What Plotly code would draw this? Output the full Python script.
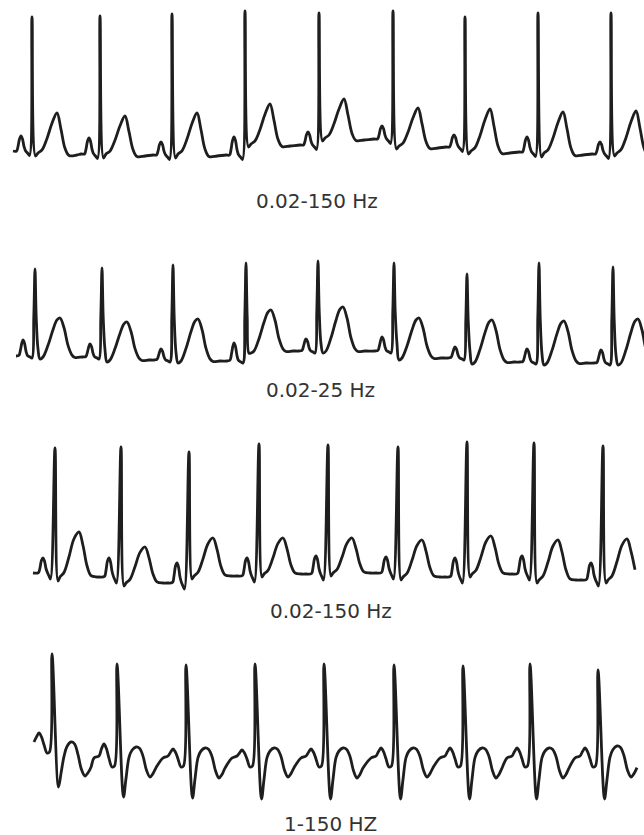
import plotly.graph_objects as go

# ---------------- data (time in s, amplitude in mV) ----------------
labels = ["0.02-150 Hz", "0.02-25 Hz", "0.02-150 Hz", "1-150 HZ"]

# Strip 1 : 0.02-150 Hz
s1_r_time = [0.32, 1.00, 1.72, 2.45, 3.19, 3.93, 4.65, 5.38, 6.11]
s1_r_amp = [1.34, 1.38, 1.41, 1.44, 1.32, 1.28, 1.30, 1.39, 1.41]
s1_p_amp = [0.15, 0.16, 0.13, 0.18, 0.13, 0.13, 0.12, 0.15, 0.12]
s1_t_amp = [0.41, 0.39, 0.42, 0.41, 0.40, 0.39, 0.43, 0.42, 0.43]
s1_s_amp = [0.02, 0.03, 0.03, 0.02, 0.02, 0.02, 0.02, 0.03, 0.02]
s1_base = [0.01, -0.02, -0.03, -0.03, 0.07, 0.13, 0.05, 0.00, -0.02, -0.02]
s1_span = [0.10, 6.60]

# Strip 2 : 0.02-25 Hz
s2_r_time = [0.35, 1.02, 1.73, 2.46, 3.18, 3.94, 4.67, 5.39, 6.13]
s2_r_amp = [0.87, 0.89, 0.95, 0.98, 0.90, 0.88, 0.84, 0.99, 0.96]
s2_p_amp = [0.16, 0.13, 0.11, 0.18, 0.12, 0.14, 0.11, 0.13, 0.13]
s2_t_amp = [0.39, 0.38, 0.42, 0.41, 0.44, 0.40, 0.42, 0.42, 0.44]
s2_s_amp = [0.02, 0.02, 0.02, 0.02, 0.02, 0.02, 0.02, 0.02, 0.02]
s2_base = [0.00, -0.01, -0.04, -0.05, 0.05, 0.05, -0.02, -0.06, -0.07, -0.07]
s2_span = [0.14, 6.60]

# Strip 3 : 0.02-150 Hz
s3_r_time = [0.55, 1.21, 1.89, 2.59, 3.28, 3.98, 4.67, 5.34, 6.03]
s3_r_amp = [1.25, 1.30, 1.31, 1.32, 1.29, 1.26, 1.35, 1.31, 1.34]
s3_p_amp = [0.15, 0.19, 0.20, 0.18, 0.18, 0.16, 0.19, 0.18, 0.17]
s3_t_amp = [0.45, 0.36, 0.38, 0.36, 0.35, 0.37, 0.38, 0.40, 0.41]
s3_s_amp = [0.04, 0.03, 0.03, 0.03, 0.03, 0.03, 0.03, 0.03, 0.03]
s3_base = [0.02, -0.02, -0.08, -0.01, 0.01, 0.02, -0.02, 0.01, -0.05, -0.05]
s3_span = [0.33, 6.38]

# Strip 4 : 1-150 HZ
s4_r_time = [0.52, 1.17, 1.86, 2.55, 3.24, 3.94, 4.63, 5.30, 5.98]
s4_r_amp = [0.92, 0.96, 0.95, 0.96, 0.96, 0.95, 0.94, 0.96, 0.90]
s4_p_amp = [0.13, 0.16, 0.11, 0.10, 0.11, 0.12, 0.12, 0.12, 0.12]
s4_t_amp = [0.18, 0.13, 0.12, 0.12, 0.12, 0.12, 0.12, 0.12, 0.14]
s4_u_amp = [0.16, 0.17, 0.18, 0.17, 0.18, 0.17, 0.18, 0.18, 0.17]
s4_s_amp = [0.27, 0.37, 0.38, 0.39, 0.39, 0.39, 0.39, 0.39, 0.39]
s4_base = [0.14, 0.00, 0.00, 0.00, 0.00, 0.00, 0.00, 0.00, 0.00, 0.00]
s4_span = [0.33, 6.37]

# beat morphology read from the tracings: (dt from R, baseline side, wave, fraction)
s1_tmpl = [(-0.19, "pre", "B", 0), (-0.155, "pre", "B", 0), (-0.14, "pre", "P", 0.3),
           (-0.125, "pre", "P", 0.8), (-0.11, "pre", "P", 1), (-0.095, "pre", "P", 0.8),
           (-0.08, "pre", "P", 0.3), (-0.065, "pre", "P", 0.02),
           (-0.045, "pre", "B", -0.02), (-0.025, "pre", "B", -0.045), (0, "pre", "R", 1),
           (0.035, "post", "S", -1), (0.06, "post", "B", 0.01), (0.10, "post", "T", 0.1),
           (0.15, "post", "T", 0.38), (0.20, "post", "T", 0.75), (0.25, "post", "T", 1.0),
           (0.29, "post", "T", 0.6), (0.33, "post", "T", 0.14), (0.37, "post", "B", -0.015),
           (0.45, "post", "B", -0.01)]
s2_tmpl = [(-0.19, "pre", "B", 0), (-0.16, "pre", "P", 0.05), (-0.145, "pre", "P", 0.4),
           (-0.13, "pre", "P", 0.85), (-0.12, "pre", "P", 1), (-0.105, "pre", "P", 0.8),
           (-0.09, "pre", "P", 0.3), (-0.075, "pre", "P", 0.03),
           (-0.05, "pre", "B", -0.01), (-0.03, "pre", "B", -0.02), (-0.012, "pre", "R", 0.45),
           (0, "pre", "R", 1), (0.012, "pre", "R", 0.45), (0.03, "pre", "R", 0.08),
           (0.05, "post", "S", -1), (0.08, "post", "T", 0.0), (0.13, "post", "T", 0.3),
           (0.18, "post", "T", 0.7), (0.22, "post", "T", 0.95), (0.25, "post", "T", 1.0),
           (0.29, "post", "T", 0.75), (0.33, "post", "T", 0.3), (0.37, "post", "T", 0.05),
           (0.40, "post", "B", -0.005), (0.47, "post", "B", 0)]
s3_tmpl = [(-0.22, "pre", "B", 0), (-0.165, "pre", "P", 0.03), (-0.15, "pre", "P", 0.35),
           (-0.135, "pre", "P", 0.85), (-0.12, "pre", "P", 1), (-0.105, "pre", "P", 0.8),
           (-0.09, "pre", "P", 0.3), (-0.075, "pre", "P", 0.02),
           (-0.06, "pre", "B", -0.03), (-0.045, "pre", "B", -0.06), (0, "pre", "R", 1),
           (0.03, "post", "S", -1), (0.05, "post", "B", 0.0), (0.09, "post", "T", 0.1),
           (0.14, "post", "T", 0.45), (0.19, "post", "T", 0.85), (0.24, "post", "T", 1.0),
           (0.28, "post", "T", 0.7), (0.32, "post", "T", 0.25), (0.36, "post", "T", 0.03),
           (0.42, "post", "B", 0)]
s4_tmpl = [(-0.23, "pre", "B", 0.02), (-0.18, "pre", "B", 0.04), (-0.155, "pre", "P", 0.7),
           (-0.13, "pre", "P", 1), (-0.105, "pre", "P", 0.7),
           (-0.08, "pre", "P", 0.1), (-0.05, "pre", "B", -0.07), (-0.025, "pre", "B", -0.06),
           (0, "pre", "R", 1), (0.065, "post", "S", -1), (0.09, "post", "S", -0.5),
           (0.12, "post", "T", 0.2), (0.15, "post", "T", 0.75), (0.19, "post", "T", 1.0),
           (0.225, "post", "T", 0.9), (0.26, "post", "T", 0.3), (0.295, "post", "U", -0.6),
           (0.33, "post", "U", -1), (0.36, "post", "U", -0.8), (0.39, "post", "U", -0.45)]

strips = [
    dict(r=s1_r_time, base=s1_base, span=s1_span, tmpl=s1_tmpl,
         waves={"R": s1_r_amp, "P": s1_p_amp, "T": s1_t_amp, "S": s1_s_amp}),
    dict(r=s2_r_time, base=s2_base, span=s2_span, tmpl=s2_tmpl,
         waves={"R": s2_r_amp, "P": s2_p_amp, "T": s2_t_amp, "S": s2_s_amp}),
    dict(r=s3_r_time, base=s3_base, span=s3_span, tmpl=s3_tmpl,
         waves={"R": s3_r_amp, "P": s3_p_amp, "T": s3_t_amp, "S": s3_s_amp}),
    dict(r=s4_r_time, base=s4_base, span=s4_span, tmpl=s4_tmpl,
         waves={"R": s4_r_amp, "P": s4_p_amp, "T": s4_t_amp, "S": s4_s_amp, "U": s4_u_amp}),
]


def build(st):
    xs, ys = [], []
    t0, t1 = st["span"]
    for i, rt in enumerate(st["r"]):
        for dt, side, wave, frac in st["tmpl"]:
            t = rt + dt
            if t < t0 or t > t1:
                continue
            b = st["base"][i] if side == "pre" else st["base"][i + 1]
            amp = 1.0 if wave == "B" else st["waves"][wave][i]
            xs.append(round(t, 4))
            ys.append(b + frac * amp)
    return xs, ys


W, H = 644, 835
ref_px = [152, 356, 575, 760]          # baseline pixel row of each strip
label_pos = [(317, 201), (320, 390), (331, 611), (330, 824)]

fig = go.Figure()
for k, st in enumerate(strips):
    xs, ys = build(st)
    fig.add_trace(go.Scatter(
        x=xs, y=ys, mode="lines", xaxis="x", yaxis="y" if k == 0 else f"y{k+1}",
        line=dict(color="#1e1e1e", width=2.8, shape="spline", smoothing=1.0),
        hoverinfo="skip", showlegend=False))

layout = dict(
    width=W, height=H, margin=dict(l=0, r=0, t=0, b=0, pad=0),
    paper_bgcolor="white", plot_bgcolor="white", showlegend=False,
    xaxis=dict(range=[0, 6.44], domain=[0, 1], visible=False, fixedrange=True),
)
for k in range(4):
    key = "yaxis" if k == 0 else f"yaxis{k+1}"
    ax = dict(range=[(ref_px[k] - H) / 100.0, ref_px[k] / 100.0], domain=[0, 1],
              visible=False, fixedrange=True)
    if k > 0:
        ax["overlaying"] = "y"
    layout[key] = ax

annotations = []
for (px, py), txt in zip(label_pos, labels):
    annotations.append(dict(
        x=px / W, y=1 - py / H, xref="paper", yref="paper", text=txt, showarrow=False,
        xanchor="center", yanchor="middle",
        font=dict(family="DejaVu Sans", size=20, color="#333333")))
layout["annotations"] = annotations
fig.update_layout(**layout)
fig.write_html("out.html", config={"displayModeBar": False})
